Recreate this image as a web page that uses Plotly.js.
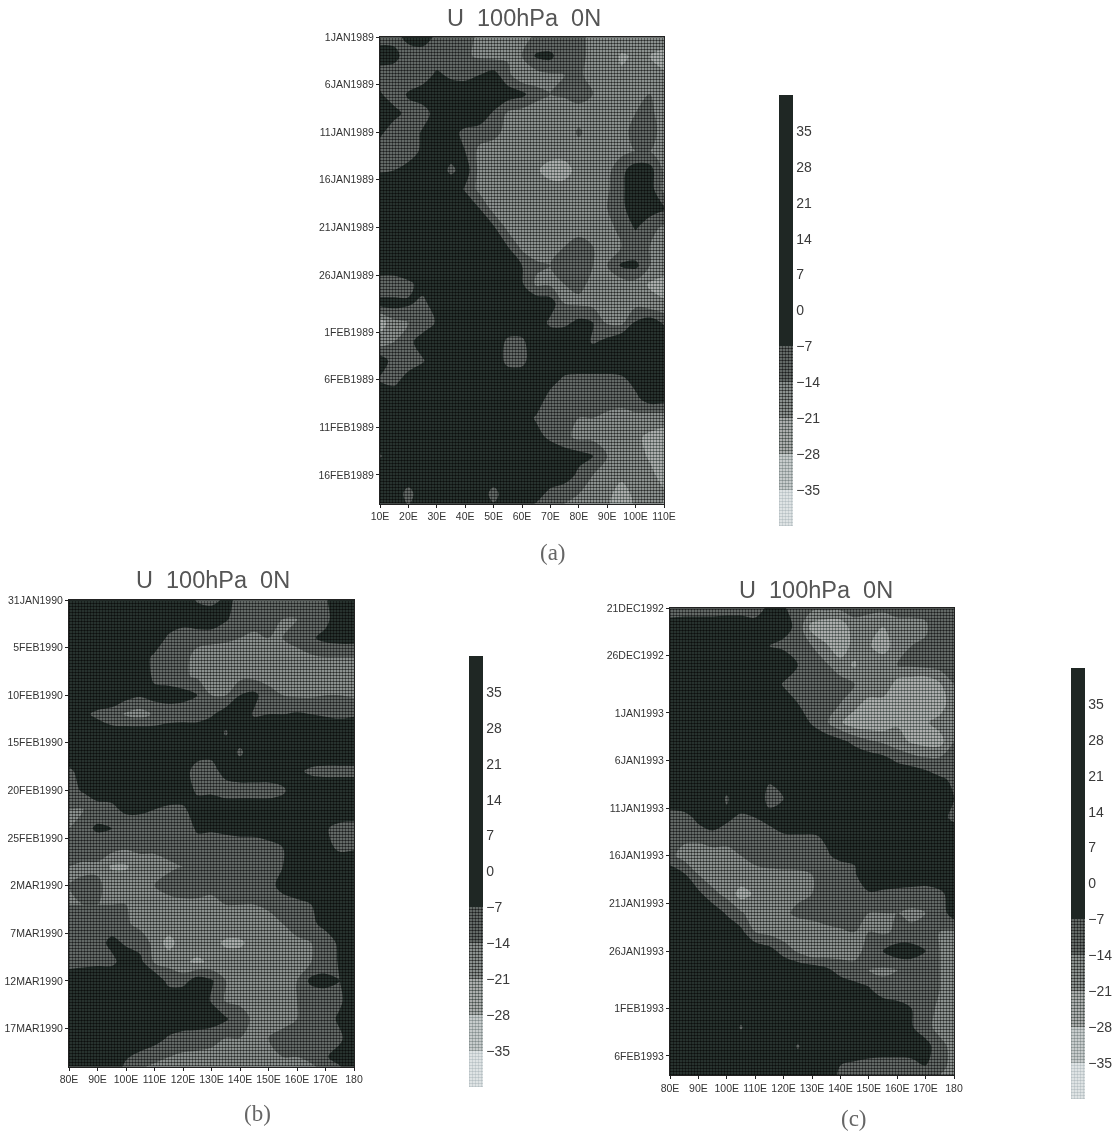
<!DOCTYPE html>
<html>
<head>
<meta charset="utf-8">
<script src="https://cdn.plot.ly/plotly-3.0.1.min.js"></script>
<style>
html,body{margin:0;padding:0;background:#fff;}
#wrap{position:relative;width:1115px;height:1132px;overflow:hidden;}
#chart{position:absolute;left:0;top:0;width:1115px;height:1132px;}
.tex{position:absolute;pointer-events:none;mix-blend-mode:overlay;
background-image:repeating-linear-gradient(0deg,rgba(0,0,0,.4) 0 1px,rgba(255,255,255,.14) 1px 3px),repeating-linear-gradient(90deg,rgba(0,0,0,.4) 0 1px,rgba(255,255,255,.14) 1px 3px);}
</style>
</head>
<body>
<div id="wrap"><div id="chart"></div>
<div class="tex" style="left:380px;top:38px;width:284px;height:465px"></div>
<div class="tex" style="left:69px;top:601px;width:285px;height:465px"></div>
<div class="tex" style="left:670px;top:609px;width:284px;height:466px"></div>
<div class="tex" style="left:779px;top:346px;width:14px;height:180px"></div>
<div class="tex" style="left:469px;top:907px;width:14px;height:180px"></div>
<div class="tex" style="left:1071px;top:919px;width:14px;height:180px"></div>
</div>
<script>
// days since the first date of each panel (rows of the value tables)
var days = [0,2,4,6,8,10,12,14,16,18,20,22,24,26,28,30,32,34,36,38,40,42,44,46,48,50];
var lonA = [10,15,20,25,30,35,40,45,50,55,60,65,70,75,80,85,90,95,100,105,110];
var lonB = [80,85,90,95,100,105,110,115,120,125,130,135,140,145,150,155,160,165,170,175,180];
var lonTicksA = [10,20,30,40,50,60,70,80,90,100,110];
var lonLabelsA = ['10E','20E','30E','40E','50E','60E','70E','80E','90E','100E','110E'];
var lonTicksB = [80,90,100,110,120,130,140,150,160,170,180];
var lonLabelsB = ['80E','90E','100E','110E','120E','130E','140E','150E','160E','170E','180'];
var dayTicksA = [0,5,10,15,20,25,31,36,41,46];
var dayLabelsA = ['1JAN1989','6JAN1989','11JAN1989','16JAN1989','21JAN1989','26JAN1989','1FEB1989','6FEB1989','11FEB1989','16FEB1989'];
var dayTicksB = [0,5,10,15,20,25,30,35,40,45];
var dayLabelsB = ['31JAN1990','5FEB1990','10FEB1990','15FEB1990','20FEB1990','25FEB1990','2MAR1990','7MAR1990','12MAR1990','17MAR1990'];
var dayTicksC = [0,5,11,16,21,26,31,36,42,47];
var dayLabelsC = ['21DEC1992','26DEC1992','1JAN1993','6JAN1993','11JAN1993','16JAN1993','21JAN1993','26JAN1993','1FEB1993','6FEB1993'];
var barTicks = [-35,-28,-21,-14,-7,0,7,14,21,28,35];

var uA = [
[-10,-10,-4,-2,-9,-10,-12,-15,-14,-14,-16,-13,-14,-13,-13,-15,-15,-15,-15,-16,-16],
[-3,-4,-12,-12,-13,-13,-13,-15,-16,-15,-14,-6,-5,-13,-13,-15,-16,-22,-20,-21,-24],
[-11,-12,-13,-12,-5,-9,-10,-7,-4,-12,-20,-17,-15,-14,-13,-16,-18,-20,-19,-16,-20],
[-6,-12,-6,-2,0,0,0,0,0,-3,-5,-12,-14,-13,-11,-14,-16,-17,-16,-14,-17],
[-2,-4,-10,-11,-3,0,0,-2,-8,-15,-17,-17,-18,-18,-17,-17,-17,-17,-14,-13,-16],
[-5,-12,-12,-6,-1,-4,-9,-10,-12,-16,-19,-18,-17,-18,-13,-17,-17,-15,-13,-13,-15],
[-12,-12,-12,-5,0,-3,-7,-16,-17,-17,-18,-18,-18,-18,-17,-17,-17,-16,-14,-14,-16],
[-8,-7,-3,0,-1,-9,-3,-16,-18,-18,-19,-20,-24,-24,-18,-17,-16,-9,-3,-4,-15],
[0,0,0,0,0,0,-8,-16,-18,-18,-18,-18,-18,-18,-17,-17,-15,-9,0,-3,-16],
[0,0,0,0,0,0,0,-7,-17,-18,-18,-18,-18,-17,-15,-15,-14,-9,-2,-3,-6],
[0,0,0,0,0,0,0,0,-6,-16,-18,-18,-16,-15,-15,-15,-15,-13,-6,-12,-15],
[0,0,0,0,0,0,0,0,-2,-7,-16,-17,-16,-14,-13,-14,-14,-14,-13,-14,-15],
[0,0,0,0,0,0,0,0,0,-2,-7,-13,-14,-13,-13,-14,-14,-6,-5,-14,-17],
[-13,-13,-9,-4,0,0,0,0,0,0,-6,-15,-15,-14,-13,-15,-17,-18,-17,-22,-24],
[-4,-4,-6,-9,-3,0,0,0,0,0,0,-1,-3,-14,-15,-16,-17,-17,-16,-18,-20],
[-25,-16,-14,-13,-6,0,0,0,0,0,0,-1,-9,-9,-5,-7,-15,-16,-6,-3,-8],
[-18,-14,-10,-2,-1,0,0,0,0,-9,-9,0,0,0,-2,-8,-5,0,0,0,-1],
[-3,-10,-12,-8,0,0,0,0,0,-10,-10,0,0,0,0,0,0,0,0,0,0],
[-8,-10,-3,0,0,0,0,0,0,0,0,0,-3,-9,-10,-10,-10,-9,-4,0,0],
[0,-1,-1,0,0,0,0,0,0,0,0,-1,-11,-12,-12,-13,-12,-12,-9,-3,-4],
[0,0,0,0,0,0,0,0,0,0,-2,-8,-12,-13,-14,-14,-15,-16,-16,-18,-18],
[0,0,0,0,0,0,0,0,0,0,0,-4,-9,-12,-16,-16,-17,-18,-20,-22,-24],
[-8,0,0,0,0,0,0,0,0,0,0,0,0,-3,-4,-7,-14,-16,-18,-22,-28],
[0,0,0,0,0,0,0,0,0,0,0,0,0,-2,-9,-14,-16,-18,-18,-19,-24],
[0,0,-11,0,0,0,0,0,-11,0,0,-3,-10,-13,-14,-16,-18,-26,-18,-18,-20],
[0,0,-4,-9,0,0,0,0,-2,0,-8,-12,-14,-15,-16,-18,-20,-30,-20,-18,-24]
];
var uB = [
[0,0,0,0,0,0,0,0,0,-8,-10,-5,-9,-11,-12,-12,-12,-12,-8,0,0],
[0,0,0,0,0,0,0,0,-3,0,0,-6,-11,-12,-13,-14,-14,-13,-9,-2,0],
[0,0,0,0,0,0,0,-9,-12,-13,-13,-13,-14,-15,-14,-14,-12,-8,-5,-4,-4],
[0,0,0,0,0,-2,-9,-9,-13,-15,-16,-17,-16,-16,-16,-16,-16,-15,-14,-14,-14],
[0,0,0,0,0,0,-9,-11,-13,-15,-15,-16,-16,-16,-16,-16,-17,-18,-18,-18,-18],
[0,0,0,0,-4,-6,-4,-3,-4,-7,-14,-14,-7,-5,-12,-14,-15,-15,-14,-14,-15],
[0,-5,-9,-11,-15,-17,-13,-12,-12,-12,-8,-3,-2,-8,-7,-7,-6,-7,-8,-9,-8],
[0,0,-1,-4,-2,-1,-3,-1,0,0,0,-8,0,0,0,0,0,0,0,0,0],
[0,0,0,0,0,0,0,0,0,-3,-4,0,-9,0,0,0,0,0,0,0,0],
[-9,-3,-5,0,0,-2,0,-2,-3,-11,-11,-3,0,0,0,0,-5,-9,-10,-10,-10],
[-10,-6,-3,-5,0,0,0,0,0,-9,-9,-12,-12,-12,-12,-9,0,0,0,0,0],
[-14,-14,-10,-8,-6,-6,-7,-9,-9,-1,0,0,0,0,0,0,0,0,0,0,0],
[-14,-9,-6,-7,-10,-10,-10,-11,-11,-6,-6,-5,-4,-3,0,0,0,0,-6,-10,-11],
[-10,-11,-11,-11,-13,-13,-13,-12,-9,-10,-11,-11,-11,-12,-11,-7,0,0,-4,-9,-8],
[-14,-15,-15,-22,-22,-16,-16,-15,-14,-14,-14,-14,-14,-14,-14,-7,0,-1,-4,0,0],
[-14,-13,-13,-16,-16,-16,-14,-12,-12,-12,-13,-13,-13,-13,-10,-4,0,0,0,0,0],
[-14,-14,-14,-14,-14,-15,-15,-16,-15,-15,-15,-14,-14,-14,-13,-11,-10,-7,0,0,0],
[-10,-11,-10,-11,-13,-16,-16,-16,-16,-16,-17,-17,-17,-16,-16,-14,-12,-9,-4,-3,0],
[-11,-11,-10,-5,-8,-10,-16,-24,-17,-18,-19,-22,-22,-19,-18,-17,-15,-14,-12,-5,0],
[-10,-10,-9,-9,-3,-5,-15,-16,-20,-22,-20,-18,-18,-18,-17,-16,-15,-14,-12,-6,0],
[-2,0,0,0,0,0,0,-10,-10,-3,-6,-14,-14,-15,-15,-15,-14,-5,-4,-7,0],
[0,0,0,0,0,0,0,0,0,0,-8,-15,-15,-16,-17,-17,-14,-13,-12,-9,0],
[0,0,0,0,0,0,0,0,0,0,-2,-6,-12,-15,-15,-15,-14,-13,-12,-5,0],
[0,0,0,0,0,0,-3,-8,-11,-12,-13,-14,-14,-14,-14,-13,-13,-12,-11,-9,0],
[0,0,0,0,-6,-10,-13,-14,-15,-15,-15,-15,-15,-15,-14,-14,-14,-13,-8,-3,0],
[0,0,0,-3,-12,-16,-16,-16,-17,-17,-17,-17,-17,-16,-16,-16,-16,-16,-14,-12,-2]
];
var uC = [
[-11,-11,-11,-11,-11,-11,-11,-5,-6,-12,-12,-12,-12,-12,-12,-12,-12,-12,-12,-12,-12],
[-3,-2,-2,-2,-1,-1,-3,-2,-4,-9,-24,-27,-27,-16,-18,-21,-16,-16,-15,-8,-12],
[0,0,0,0,0,0,-1,-7,-9,-12,-14,-20,-26,-18,-20,-26,-16,-14,-13,-10,-12],
[0,0,0,0,0,0,0,0,0,-7,-12,-13,-18,-22,-15,-14,-14,-13,-12,-11,-10],
[0,0,0,0,-1,0,0,0,-8,-12,-11,-10,-11,-14,-14,-15,-24,-26,-27,-22,-14],
[0,0,0,0,0,0,0,0,-1,-7,-12,-13,-14,-18,-24,-24,-24,-26,-28,-26,-15],
[0,0,0,0,0,0,0,0,0,-2,-8,-13,-20,-26,-26,-26,-22,-21,-22,-18,-14],
[0,0,0,0,0,0,0,0,0,0,-1,-3,-5,-9,-13,-15,-18,-22,-24,-24,-14],
[0,0,0,0,0,0,0,0,0,0,0,0,0,-1,-2,-4,-8,-10,-12,-12,-11],
[0,0,0,0,-3,0,0,-6,0,0,0,0,0,0,0,0,0,0,-2,-6,-8],
[0,0,0,0,-8,0,0,-10,-7,0,0,0,0,0,0,0,0,0,0,-1,-7],
[-12,-10,-5,-3,-5,-9,-7,-4,-2,0,0,0,0,0,0,0,0,0,0,-4,-9],
[-14,-12,-11,-9,-12,-13,-14,-11,-8,-8,-8,-6,-5,-7,-3,0,0,0,0,0,0],
[-12,-17,-20,-18,-16,-14,-12,-8,-9,-11,-13,-8,-5,-6,-1,0,0,0,0,0,0],
[-2,-6,-14,-18,-17,-16,-16,-17,-16,-15,-14,-13,-12,-8,0,0,0,0,0,0,0],
[0,-1,-5,-12,-16,-24,-20,-18,-18,-16,-14,-10,-11,-9,-8,-9,-10,-11,-12,-9,-3],
[0,0,-1,-2,-8,-13,-18,-17,-16,-12,-10,-9,-10,-12,-14,-14,-14,-15,-14,-11,-3],
[0,0,0,0,-1,-5,-14,-16,-18,-20,-20,-17,-15,-14,-14,-15,-13,-13,-13,-14,-15],
[0,0,0,0,0,0,-1,-4,-10,-15,-20,-19,-17,-15,-13,-7,-3,-3,-7,-14,-15],
[0,0,0,0,0,0,0,0,0,-1,-2,-5,-10,-13,-14,-15,-14,-13,-13,-14,-15],
[0,0,0,0,0,0,0,0,0,0,0,0,-1,-3,-6,-12,-13,-11,-12,-14,-15],
[0,0,0,0,0,0,0,0,0,0,0,0,0,0,-1,-1,-3,-7,-12,-15,-16],
[0,0,0,0,0,-8,0,0,0,0,0,0,0,0,0,0,0,-6,-13,-15,-15],
[0,0,0,0,0,0,0,0,0,-8,0,0,0,0,0,0,0,0,-3,-13,-15],
[0,0,0,0,0,0,0,0,0,0,0,0,-7,-9,-11,-12,-12,-11,-7,-13,-15],
[0,0,0,0,0,0,0,0,0,0,0,-2,-9,-13,-14,-14,-14,-14,-14,-15,-16]
];

var W = 1115, H = 1132;
var greys = [[0,'#e2e9ec'],[0.125,'#b4baba'],[0.208,'#8e9391'],[0.292,'#6e7371'],[0.375,'#4e5351'],[0.416,'#4e5351'],[0.417,'#1f2724'],[1,'#1f2724']];

function panel(z, lon, barX, barTop, sfx) {
  return {
    type:'contour', x:lon, y:days, z:z, xaxis:'x'+sfx, yaxis:'y'+sfx,
    zmin:-42, zmax:42, zauto:false, colorscale:greys, hoverinfo:'skip',
    contours:{start:-42,end:42,size:7,coloring:'fill',showlines:false},
    line:{width:0,smoothing:1},
    colorbar:{x:barX/W, xanchor:'left', xref:'paper', y:1-barTop/H, yanchor:'top', yref:'paper',
      lenmode:'pixels', len:431, thicknessmode:'pixels', thickness:14,
      outlinewidth:0, borderwidth:0, ticks:'', tickmode:'array', tickvals:barTicks,
      ticktext:barTicks.map(function(v){return v<0?'\u2212'+(-v):String(v);}),
      ticklabelposition:'outside', xpad:0, ypad:0,
      tickfont:{family:'Liberation Sans',size:14,color:'#3a3a3a'}}
  };
}
function xAxis(l, r, ticks, labels, anchor, lo, hi) {
  return {domain:[l/W,r/W], range:[lo,hi], anchor:anchor, tickmode:'array', tickvals:ticks, ticktext:labels,
    ticks:'outside', ticklen:3, tickwidth:1, tickcolor:'#222', showline:true, linecolor:'#222', linewidth:1, mirror:true,
    showgrid:false, zeroline:false, tickangle:0, tickfont:{family:'Liberation Sans',size:10.5,color:'#333'}};
}
function yAxis(top, bot, ticks, labels, anchor) {
  return {domain:[1-bot/H,1-top/H], range:[49,0], anchor:anchor, tickmode:'array', tickvals:ticks, ticktext:labels,
    ticks:'outside', ticklen:3, tickwidth:1, tickcolor:'#222', showline:true, linecolor:'#222', linewidth:1, mirror:true,
    showgrid:false, zeroline:false, tickfont:{family:'Liberation Sans',size:10.5,color:'#333'}};
}
function note(t, x, y, size, fam, col) {
  return {text:t, xref:'paper', yref:'paper', x:x/W, y:1-y/H, showarrow:false, xanchor:'center', yanchor:'middle',
    font:{family:fam, size:size, color:col}};
}
var title = 'U\u00a0\u00a0100hPa\u00a0\u00a00N';
var data = [panel(uA,lonA,779,95,''), panel(uB,lonB,469,656,'2'), panel(uC,lonB,1071,668,'3')];
var layout = {
  width:W, height:H, margin:{l:0,r:0,t:0,b:0}, paper_bgcolor:'#fff', plot_bgcolor:'#1f2724', showlegend:false,
  xaxis: xAxis(380,664,lonTicksA,lonLabelsA,'y',10,110),
  yaxis: yAxis(37,503.5,dayTicksA,dayLabelsA,'x'),
  xaxis2:xAxis(69,354,lonTicksB,lonLabelsB,'y2',80,180),
  yaxis2:yAxis(600,1066.5,dayTicksB,dayLabelsB,'x2'),
  xaxis3:xAxis(670,954,lonTicksB,lonLabelsB,'y3',80,180),
  yaxis3:yAxis(608,1075,dayTicksC,dayLabelsC,'x3'),
  annotations:[
    note(title,524,18,23.5,'Liberation Sans','#555'), note(title,213,580,23.5,'Liberation Sans','#555'), note(title,816,590,23.5,'Liberation Sans','#555'),
    note('(a)',553,552,23,'Liberation Serif','#666'), note('(b)',257,1113,23,'Liberation Serif','#666'), note('(c)',854,1118,23,'Liberation Serif','#666')
  ]
};
Plotly.newPlot('chart', data, layout, {displayModeBar:false, staticPlot:true});
</script>
</body>
</html>
